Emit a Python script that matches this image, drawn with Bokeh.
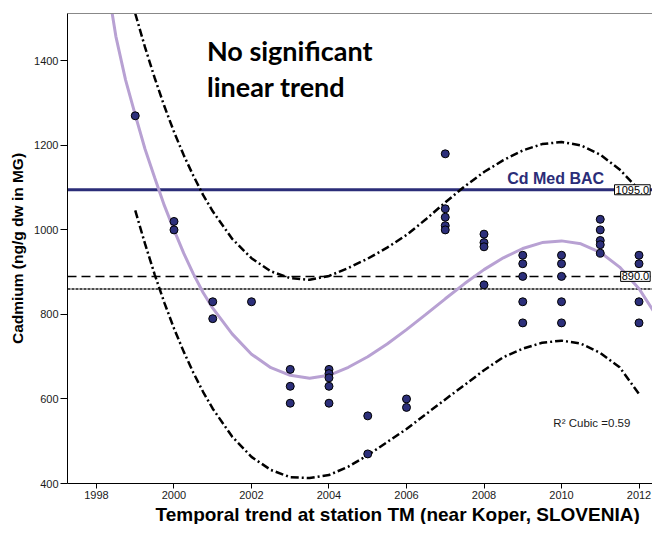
from bokeh.plotting import figure
from bokeh.models import Range1d, FixedTicker, Span, Label, LinearAxis, Title
from bokeh.embed import file_html
from bokeh.resources import INLINE

# ---------------- data ----------------
x_ticks = [1998, 2000, 2002, 2004, 2006, 2008, 2010, 2012]
y_ticks = [400, 600, 800, 1000, 1200, 1400]

pt_year = [1999,
           2000, 2000,
           2001, 2001,
           2002,
           2003, 2003, 2003,
           2004, 2004, 2004, 2004, 2004,
           2005, 2005,
           2006, 2006,
           2007, 2007, 2007, 2007, 2007,
           2008, 2008, 2008, 2008,
           2009, 2009, 2009, 2009, 2009,
           2010, 2010, 2010, 2010, 2010,
           2011, 2011, 2011, 2011, 2011,
           2012, 2012, 2012, 2012, 2012]
pt_cd = [1270,
         1020, 1000,
         830, 790,
         830,
         670, 630, 590,
         670, 660, 650, 630, 590,
         560, 470,
         600, 580,
         1180, 1050, 1030, 1010, 1000,
         990, 970, 960, 870,
         940, 920, 890, 830, 780,
         940, 920, 890, 830, 780,
         1025, 1000, 975, 965, 945,
         940, 920, 890, 830, 780]

# cubic fit curve
fit_year = [1998.4, 1998.5, 1998.75, 1999.0, 1999.25, 1999.5, 1999.75, 2000.0,
            2000.25, 2000.5, 2000.75, 2001.0, 2001.5, 2002.0, 2002.5, 2003.0,
            2003.5, 2004.0, 2004.5, 2005.0, 2005.5, 2006.0, 2006.5, 2007.0,
            2007.5, 2008.0, 2008.5, 2009.0, 2009.5, 2010.0, 2010.5, 2011.0,
            2011.5, 2012.0, 2012.5, 2012.8]
fit_cd = [1515, 1458, 1355, 1272, 1192, 1124, 1058, 1000,
          945, 896, 852, 815, 754, 706, 674, 656,
          649, 656, 675, 700, 730, 764, 800, 837,
          873, 906, 934, 956, 970, 974, 967, 947,
          912, 861, 790, 740]

# prediction band (dash-dot)
band_year = [1999.0, 1999.25, 1999.5, 1999.75, 2000.0, 2000.25, 2000.5, 2000.75,
             2001.0, 2001.5, 2002.0, 2002.5, 2003.0, 2003.5, 2004.0, 2004.5,
             2005.0, 2005.5, 2006.0, 2006.5, 2007.0, 2007.5, 2008.0, 2008.5,
             2009.0, 2009.5, 2010.0, 2010.5, 2011.0, 2011.5, 2012.0]
band_upper = [1512, 1433, 1360, 1293, 1232, 1177, 1128, 1083,
              1044, 979, 933, 902, 886, 882, 891, 910,
              932, 958, 988, 1025, 1065, 1103, 1137, 1165,
              1188, 1203, 1208, 1200, 1178, 1143, 1095]
band_lower = [1046, 968, 895, 828, 767, 712, 662, 617,
              577, 511, 463, 432, 415, 413, 420, 440,
              467, 498, 529, 564, 599, 633, 668, 699,
              719, 733, 738, 731, 709, 675, 612]

bac_value = 1095.0
ref_value = 890.0
ref2_value = 860.0
r2_cubic = 0.59

NAVY = "#2b2d78"
ARIAL = "Liberation Sans"
X_START, X_END = 1997.252, 2012.348

# ---------------- figure ----------------
p = figure(width=652, height=524,
           x_range=Range1d(X_START, X_END), y_range=Range1d(400, 1512),
           output_backend="svg", toolbar_location=None,
           min_border_left=67, min_border_right=0,
           min_border_top=13, min_border_bottom=41)
p.background_fill_color = "white"
p.border_fill_color = "white"
p.outline_line_color = None
p.xgrid.visible = False
p.ygrid.visible = False

# reference lines
p.add_layout(Span(location=ref2_value, dimension="width", line_color="#4d4d4d",
                  line_width=2, line_dash="3 1", level="underlay"))
p.add_layout(Span(location=ref_value, dimension="width", line_color="black",
                  line_width=1.5, line_dash="9 5", level="underlay"))
p.add_layout(Span(location=bac_value, dimension="width", line_color=NAVY,
                  line_width=3, level="underlay"))

# prediction band
p.line(band_year, band_upper, line_color="black", line_width=2.5, line_dash="8 3 2 3")
p.line(band_year, band_lower, line_color="black", line_width=2.5, line_dash="8 3 2 3")

# cubic fit
p.line(fit_year, fit_cd, line_color="#b8a1d3", line_width=3)

# data points
p.scatter(pt_year, pt_cd, marker="circle", size=8, fill_color="#2c2f7a",
          line_color="black", line_width=1)

# axes
xax = p.below[0]
xax.ticker = FixedTicker(ticks=x_ticks)
xax.major_label_text_font = ARIAL
xax.major_label_text_font_size = "11px"
xax.major_label_text_color = "#1a1a1a"
xax.major_tick_out = 5
xax.major_tick_in = 0
xax.minor_tick_out = 0
xax.minor_tick_in = 0
xax.major_label_standoff = 2
xax.axis_line_color = "black"
xax.major_tick_line_color = "black"

yax = p.left[0]
yax.ticker = FixedTicker(ticks=y_ticks)
yax.major_label_text_font = ARIAL
yax.major_label_text_font_size = "11px"
yax.major_label_text_color = "#1a1a1a"
yax.major_tick_out = 7
yax.major_tick_in = 0
yax.minor_tick_out = 0
yax.minor_tick_in = 0
yax.major_label_standoff = 2
yax.axis_line_color = "black"
yax.major_tick_line_color = "black"
yax.axis_label = "Cadmium (ng/g dw in MG)"
yax.axis_label_text_font = ARIAL
yax.axis_label_text_font_size = "15.5px"
yax.axis_label_text_font_style = "bold"
yax.axis_label_text_color = "black"
yax.axis_label_standoff = 5

top = LinearAxis(ticker=FixedTicker(ticks=[]), axis_line_color="#888888",
                 axis_line_width=1, major_tick_out=0, major_tick_in=0,
                 minor_tick_out=0, minor_tick_in=0,
                 major_label_text_font_size="0px")
p.add_layout(top, "above")

# x-axis title, placed like the original (off-centre, below the tick labels)
p.add_layout(Title(text="Temporal trend at station TM (near Koper, SLOVENIA)",
                   align="left", offset=88, standoff=0, text_font=ARIAL,
                   text_font_size="19px", text_font_style="bold",
                   text_color="black"), "below")

# annotations
p.add_layout(Label(x=2000.85, y=1424, text="No significant", text_font="Lato",
                   text_font_size="27px", text_font_style="bold", text_color="black",
                   text_align="left", text_baseline="alphabetic"))
p.add_layout(Label(x=2000.85, y=1339, text="linear trend", text_font="Lato",
                   text_font_size="27px", text_font_style="bold", text_color="black",
                   text_align="left", text_baseline="alphabetic"))
p.add_layout(Label(x=2008.6, y=1122, text="Cd Med BAC", text_font=ARIAL,
                   text_font_size="16px", text_font_style="bold", text_color=NAVY,
                   text_align="left", text_baseline="alphabetic"))
p.add_layout(Label(x=2009.79, y=542, text="R\u00b2 Cubic =%.2f" % r2_cubic, text_font=ARIAL,
                   text_font_size="11.5px", text_color="#1a1a1a",
                   text_align="left", text_baseline="alphabetic"))
p.add_layout(Label(x=X_END - 0.06, y=bac_value, text="%.1f" % bac_value, text_font=ARIAL,
                   text_font_size="11px", text_color="black", text_align="right",
                   text_baseline="middle", background_fill_color="white",
                   border_line_color="black", border_line_width=1, padding=1))
p.add_layout(Label(x=X_END - 0.06, y=ref_value, text="%.1f" % ref_value, text_font=ARIAL,
                   text_font_size="11px", text_color="black", text_align="right",
                   text_baseline="middle", background_fill_color="white",
                   border_line_color="black", border_line_width=1, padding=1))

open("out.html", "w").write(file_html(p, INLINE))
